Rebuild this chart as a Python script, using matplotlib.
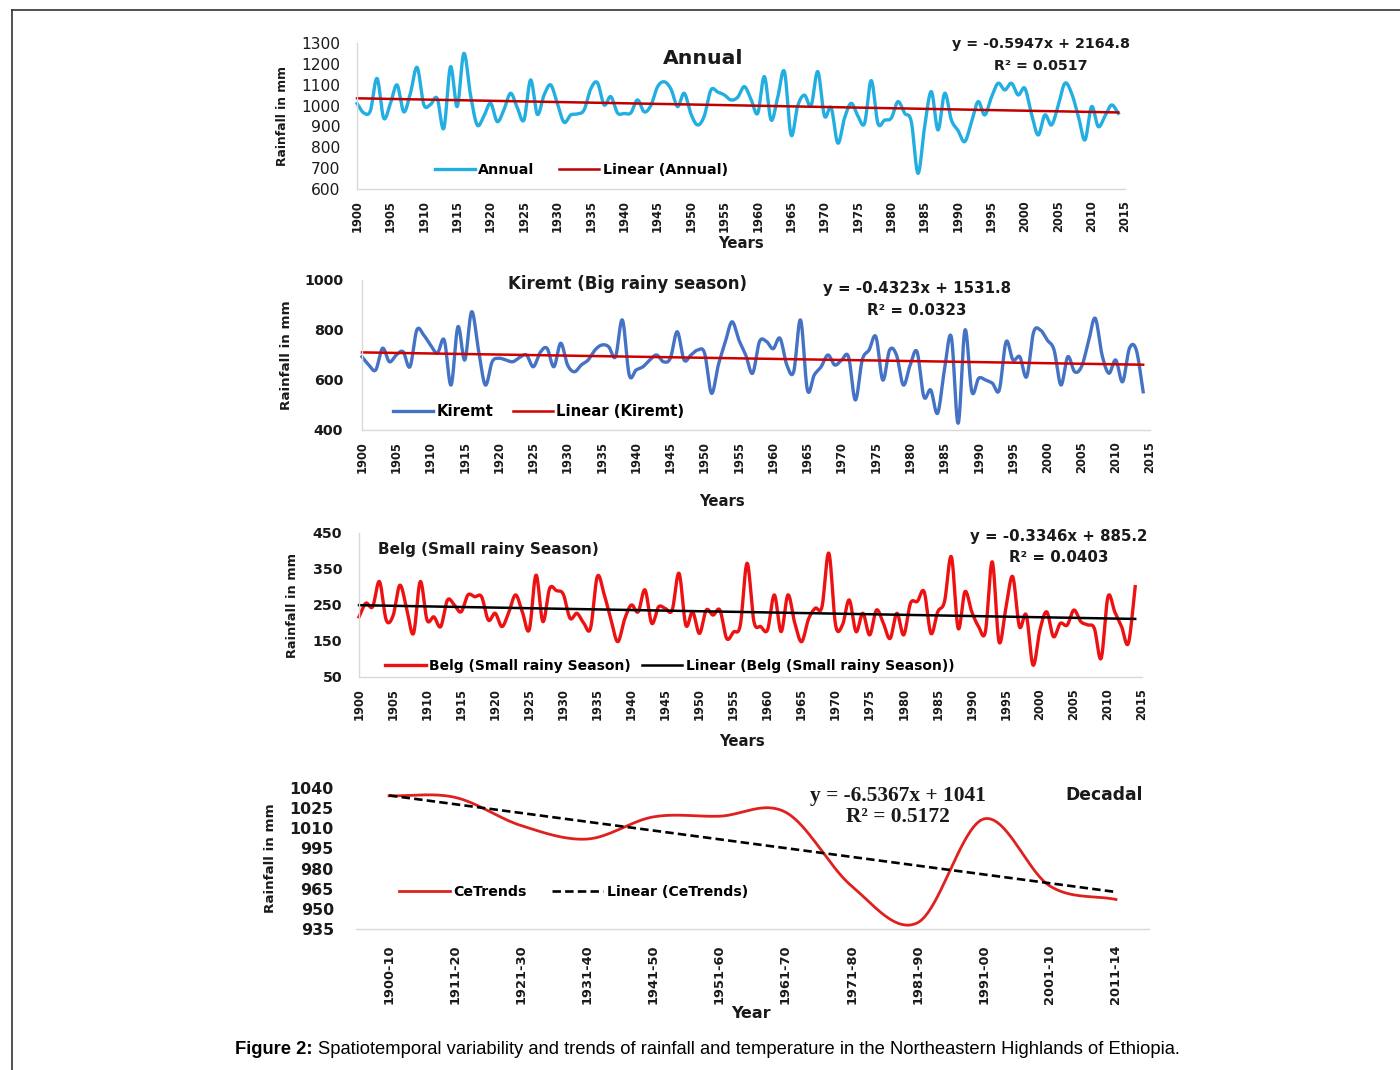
import numpy as np
import matplotlib
matplotlib.use("Agg")
import matplotlib.pyplot as plt
from matplotlib.lines import Line2D

# ---------------- data ----------------
years = list(range(1900, 2015))
year_ticks = list(range(1900, 2016, 5))

annual = [1010, 965, 975, 1130, 940, 1010, 1099, 970, 1060, 1183,
          1005, 1005, 1035, 891, 1186, 995, 1250, 1050, 907, 950,
          1011, 923, 980, 1059, 990, 931, 1123, 958, 1050, 1099,
          1010, 920, 955, 960, 979, 1080, 1110, 1003, 1043, 965,
          962, 965, 1027, 970, 1000, 1090, 1114, 1080, 995, 1059,
          960, 907, 950, 1075, 1065, 1051, 1027, 1040, 1091, 1030,
          963, 1139, 931, 1040, 1163, 859, 1000, 1050, 1000, 1163,
          950, 990, 820, 940, 1011, 950, 915, 1120, 915, 930,
          940, 1019, 963, 923, 675, 900, 1067, 883, 1059, 931,
          880, 827, 920, 1019, 955, 1040, 1107, 1075, 1107, 1051,
          1083, 960, 859, 955, 907, 1000, 1107, 1059, 950, 835,
          995, 899, 950, 1003, 963]
annual_trend = [-0.5947, 2164.8]
annual_r2 = 0.0517

kiremt = [693, 660, 640, 727, 673, 700, 713, 653, 800, 780,
          740, 707, 760, 580, 813, 680, 873, 720, 580, 673,
          687, 680, 673, 690, 700, 653, 710, 727, 653, 747,
          660, 633, 660, 680, 720, 740, 733, 693, 840, 620,
          640, 653, 680, 700, 673, 687, 793, 680, 700, 720,
          707, 547, 660, 750, 833, 760, 700, 627, 753, 755,
          725, 767, 660, 633, 840, 560, 620, 653, 700, 660,
          680, 693, 520, 680, 720, 773, 600, 720, 700, 580,
          660, 713, 533, 560, 467, 640, 773, 427, 800, 553,
          607, 600, 587, 560, 753, 680, 693, 613, 790, 800,
          760, 720, 580, 693, 633, 653, 750, 847, 700, 627,
          680, 593, 727, 720, 553]
kiremt_trend = [-0.4323, 1531.8]
kiremt_r2 = 0.0323

belg = [217, 255, 245, 315, 208, 220, 305, 240, 171, 315,
        208, 217, 190, 264, 250, 231, 278, 273, 273, 208,
        227, 190, 230, 278, 230, 181, 333, 204, 296, 290,
        280, 213, 227, 200, 185, 329, 280, 210, 148, 210,
        250, 231, 292, 199, 245, 240, 236, 338, 194, 231,
        171, 236, 222, 236, 157, 175, 194, 366, 204, 190,
        181, 278, 176, 278, 200, 148, 210, 241, 245, 394,
        194, 194, 264, 176, 227, 167, 236, 200, 157, 227,
        167, 255, 260, 287, 171, 231, 260, 384, 185, 287,
        231, 190, 176, 370, 148, 240, 329, 190, 222, 83,
        180, 231, 162, 199, 194, 236, 204, 195, 185, 102,
        273, 231, 190, 144, 301]
belg_trend = [-0.3346, 885.2]
belg_r2 = 0.0403

decades = ["1900-10", "1911-20", "1921-30", "1931-40", "1941-50", "1951-60",
           "1961-70", "1971-80", "1981-90", "1991-00", "2001-10", "2011-14"]
decadal = [1034.2, 1033.0, 1012, 1002, 1018.5, 1019, 1022, 967, 939.7, 1017, 967, 957]
decadal_trend = [-6.5367, 1041]
decadal_r2 = 0.5172

# ---------------- helpers ----------------
W, H = 1400, 1070
fig = plt.figure(figsize=(W / 100, H / 100), dpi=100)
fig.patch.set_facecolor("white")

TXT = "#1a1a1a"
BOLD = dict(family="DejaVu Sans", weight="bold", color=TXT)


def add_ax(l, t, r, b):
    return fig.add_axes([l / W, 1 - b / H, (r - l) / W, (b - t) / H])


def ftext(x, y, s, **kw):
    return fig.text(x / W, 1 - y / H, s, **kw)


def smooth(x, y, n=20):
    x = np.asarray(x, float)
    y = np.asarray(y, float)
    m = np.zeros_like(y)
    m[1:-1] = (y[2:] - y[:-2]) / 2.0
    m[0] = y[1] - y[0]
    m[-1] = y[-1] - y[-2]
    xs, ys = [], []
    for i in range(len(x) - 1):
        t = np.linspace(0, 1, n, endpoint=False)
        h00 = 2 * t**3 - 3 * t**2 + 1
        h10 = t**3 - 2 * t**2 + t
        h01 = -2 * t**3 + 3 * t**2
        h11 = t**3 - t**2
        xs.append(x[i] + t * (x[i + 1] - x[i]))
        ys.append(h00 * y[i] + h10 * m[i] + h01 * y[i + 1] + h11 * m[i + 1])
    xs.append([x[-1]])
    ys.append([y[-1]])
    return np.concatenate(xs), np.concatenate(ys)


def style(ax, left=True):
    ax.patch.set_alpha(0)
    for s in ["top", "right"]:
        ax.spines[s].set_visible(False)
    ax.spines["bottom"].set_color("#d9d9d9")
    ax.spines["bottom"].set_linewidth(1.0)
    ax.spines["left"].set_visible(left)
    ax.spines["left"].set_color("#d9d9d9")
    ax.spines["left"].set_linewidth(1.0)
    ax.tick_params(length=0)


def year_axis(ax, ypad, size=8.3):
    ax.set_xlim(1900, 2015)
    ax.set_xticks(year_ticks)
    ax.set_xticklabels([str(v) for v in year_ticks], rotation=90, va="top",
                       ha="center", fontsize=size, fontweight="bold", color=TXT)
    ax.tick_params(axis="x", pad=ypad)


yrs = np.array(years, float)

# ---------------- Annual ----------------
ax1 = add_ax(357, 43, 1125, 189)
style(ax1)
xs, ys = smooth(years, annual)
ax1.plot(xs, ys, color="#22aee0", lw=2.4, label="Annual", clip_on=False)
ax1.plot(yrs, annual_trend[0] * yrs + annual_trend[1], color="#c00000", lw=1.8,
         label="Linear (Annual)", clip_on=False)
ax1.set_ylim(600, 1300)
ax1.set_yticks(range(600, 1301, 100))
ax1.set_yticklabels([str(v) for v in range(600, 1301, 100)], fontsize=11.2, color=TXT)
ax1.tick_params(axis="y", pad=12)
year_axis(ax1, 8)
ax1.legend(loc="center", bbox_to_anchor=(0.292, 0.13), ncol=2, frameon=False,
           prop=dict(family="DejaVu Sans", weight="bold", size=10.3),
           handlelength=2.8, handletextpad=0.25, columnspacing=1.7,
           borderpad=0, borderaxespad=0)
ftext(703, 58, "Annual", ha="center", va="center", fontsize=14.7, **BOLD)
ftext(1041, 44, f"y = {annual_trend[0]}x + {annual_trend[1]}", ha="center", va="center", fontsize=10.3, **BOLD)
ftext(1041, 66, f"R² = {annual_r2}", ha="center", va="center", fontsize=10.3, **BOLD)
ftext(741, 243, "Years", ha="center", va="center", fontsize=10.7, **BOLD)
ftext(283, 116, "Rainfall in mm", ha="center", va="center", rotation=90, fontsize=8.9, **BOLD)

# ---------------- Kiremt ----------------
ax2 = add_ax(362, 280, 1150, 430)
style(ax2)
xs, ys = smooth(years, kiremt)
ax2.plot(xs, ys, color="#4472c4", lw=2.4, label="Kiremt", clip_on=False)
ax2.plot(yrs, kiremt_trend[0] * yrs + kiremt_trend[1], color="#d00000", lw=1.8,
         label="Linear (Kiremt)", clip_on=False)
ax2.set_ylim(400, 1000)
ax2.set_yticks(range(400, 1001, 200))
ax2.set_yticklabels([str(v) for v in range(400, 1001, 200)], fontsize=10.3,
                    fontweight="bold", color=TXT)
ax2.tick_params(axis="y", pad=13.5)
year_axis(ax2, 8)
ax2.legend(loc="center", bbox_to_anchor=(0.224, 0.12), ncol=2, frameon=False,
           prop=dict(family="DejaVu Sans", weight="bold", size=10.7),
           handlelength=2.7, handletextpad=0.25, columnspacing=1.3,
           borderpad=0, borderaxespad=0)
ftext(628, 284, "Kiremt (Big rainy season)", ha="center", va="center", fontsize=12, **BOLD)
ftext(917, 288, f"y = {kiremt_trend[0]}x + {kiremt_trend[1]}", ha="center", va="center", fontsize=10.8, **BOLD)
ftext(917, 311, f"R² = {kiremt_r2}", ha="center", va="center", fontsize=10.8, **BOLD)
ftext(722, 501, "Years", ha="center", va="center", fontsize=10.7, **BOLD)
ftext(286, 355, "Rainfall in mm", ha="center", va="center", rotation=90, fontsize=9.7, **BOLD)

# ---------------- Belg ----------------
ax3 = add_ax(359, 533, 1142, 677)
style(ax3)
xs, ys = smooth(years, belg)
ax3.plot(xs, ys, color="#ee1111", lw=2.4, label="Belg (Small rainy Season)", clip_on=False)
ax3.plot(yrs, belg_trend[0] * yrs + belg_trend[1], color="black", lw=1.8,
         label="Linear (Belg (Small rainy Season))", clip_on=False)
ax3.set_ylim(50, 450)
ax3.set_yticks(range(50, 451, 100))
ax3.set_yticklabels([str(v) for v in range(50, 451, 100)], fontsize=10.3,
                    fontweight="bold", color=TXT)
ax3.tick_params(axis="y", pad=12)
year_axis(ax3, 8)
ax3.legend(loc="center", bbox_to_anchor=(0.397, 0.076), ncol=2, frameon=False,
           prop=dict(family="DejaVu Sans", weight="bold", size=10.0),
           handlelength=2.9, handletextpad=0.25, columnspacing=0.8,
           borderpad=0, borderaxespad=0)
ftext(378, 550, "Belg (Small rainy Season)", ha="left", va="center", fontsize=11, **BOLD)
ftext(1059, 536, f"y = {belg_trend[0]}x + {belg_trend[1]}", ha="center", va="center", fontsize=10.8, **BOLD)
ftext(1059, 558, f"R² = {belg_r2}", ha="center", va="center", fontsize=10.8, **BOLD)
ftext(742, 742, "Years", ha="center", va="center", fontsize=10.7, **BOLD)
ftext(293, 605, "Rainfall in mm", ha="center", va="center", rotation=90, fontsize=9.3, **BOLD)

# ---------------- Decadal ----------------
ax4 = add_ax(356, 788, 1149, 929)
style(ax4, left=False)
idx = np.arange(1, len(decadal) + 1, dtype=float)
xs, ys = smooth(idx, decadal)
ax4.plot(xs, ys, color="#e0201e", lw=2.0, label="CeTrends", clip_on=False)
ax4.plot(idx, decadal_trend[0] * idx + decadal_trend[1], color="black", lw=1.9,
         ls=(0, (3.2, 1.6)), label="Linear (CeTrends)", clip_on=False)
ax4.set_xlim(0.5, len(decadal) + 0.5)
ax4.set_ylim(935, 1040)
ax4.set_yticks(range(935, 1041, 15))
ax4.set_yticklabels([str(v) for v in range(935, 1041, 15)], fontsize=11.4,
                    fontweight="bold", color=TXT)
ax4.tick_params(axis="y", pad=16)
ax4.set_xticks(idx)
ax4.set_xticklabels(decades, rotation=90, va="top", ha="center", fontsize=9.4,
                    fontweight="bold", color=TXT)
ax4.tick_params(axis="x", pad=11)
ax4.legend(loc="center", bbox_to_anchor=(0.274, 0.262), ncol=2, frameon=False,
           prop=dict(family="DejaVu Sans", weight="bold", size=10.2),
           handlelength=3.6, handletextpad=0.25, columnspacing=1.8,
           borderpad=0, borderaxespad=0)
ftext(1104, 795, "Decadal", ha="center", va="center", fontsize=12.3, **BOLD)
ftext(898, 796, f"y = {decadal_trend[0]}x + {decadal_trend[1]}", ha="center", va="center",
      fontsize=15.4, family="Liberation Serif", weight="bold", color=TXT)
ftext(898, 817, f"R² = {decadal_r2}", ha="center", va="center",
      fontsize=15.4, family="Liberation Serif", weight="bold", color=TXT)
ftext(751, 1013, "Year", ha="center", va="center", fontsize=11.5, **BOLD)
ftext(271, 858, "Rainfall in mm", ha="center", va="center", rotation=90, fontsize=9.7, **BOLD)

# ---------------- caption & frame ----------------
ftext(235, 1049, "Figure 2:", ha="left", va="center", fontsize=13.2,
      family="Liberation Sans", weight="bold", color="black")
ftext(318, 1049, "Spatiotemporal variability and trends of rainfall and temperature "
      "in the Northeastern Highlands of Ethiopia.", ha="left", va="center",
      fontsize=13.2, family="Liberation Sans", color="black")

fig.add_artist(Line2D([12 / W, 1.0], [1 - 10 / H, 1 - 10 / H], transform=fig.transFigure,
                      color="#333333", lw=1.2))
fig.add_artist(Line2D([12 / W, 12 / W], [0, 1 - 10 / H], transform=fig.transFigure,
                      color="#333333", lw=1.2))

fig.savefig("out.png", dpi=100, facecolor="white")
